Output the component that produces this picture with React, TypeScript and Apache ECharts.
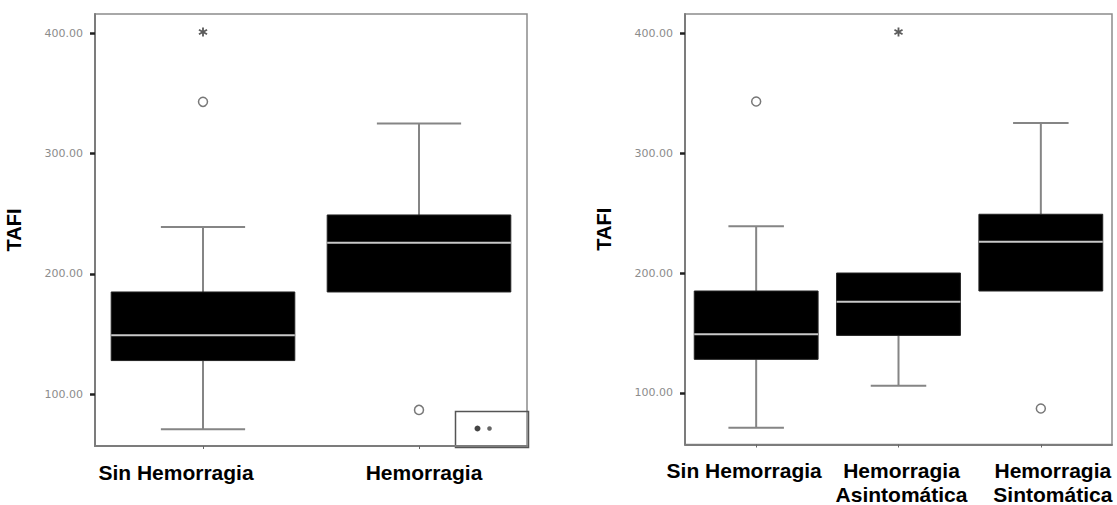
import React, { useEffect, useRef } from "react";
import * as echarts from "echarts";

// Two-group comparison
const groupsTwo = ["Sin Hemorragia", "Hemorragia"];
// [lower whisker, Q1, median, Q3, upper whisker]
const statsTwo = [
  [71, 128, 149, 185, 239],
  [185, 185, 226, 249, 325],
];
const circlesTwo = [
  [0, 343],
  [1, 87],
];
const starsTwo = [[0, 401]];

// Three-group comparison
const groupsThree = ["Sin Hemorragia", "Hemorragia\nAsintomática", "Hemorragia\nSintomática"];
const statsThree = [
  [71, 128, 149, 185, 239],
  [106, 148, 176, 200, 200],
  [185, 185, 226, 249, 325],
];
const circlesThree = [
  [0, 343],
  [2, 87],
];
const starsThree = [[1, 401]];

const yTicks = [100, 200, 300, 400];
const yMin = 57;
const yMax = 416;

// horizontal nudges (px) of the category captions
const shiftTwo = [-27, 5];
const shiftThree = [-12, 3, 12];

const FONT = "'Liberation Sans', Arial, sans-serif";
const ASTERISK =
  "path://M4,0h2v3.3l2.9-1.7 1,1.7-2.9,1.7 2.9,1.7-1,1.7-2.9-1.7v3.3h-2v-3.3l-2.9,1.7-1-1.7 2.9-1.7-2.9-1.7 1-1.7 2.9,1.7z";

function boxRenderer(boxRatio: number, capRatio: number) {
  return (params: any, api: any) => {
    const cat = api.value(0);
    const low = api.value(1);
    const q1 = api.value(2);
    const med = api.value(3);
    const q3 = api.value(4);
    const high = api.value(5);
    const band = api.size([1, 0])[0];
    const hb = (band * boxRatio) / 2;
    const hc = (band * capRatio) / 2;
    const x = api.coord([cat, med])[0];
    const yLow = api.coord([cat, low])[1];
    const yQ1 = api.coord([cat, q1])[1];
    const yMed = api.coord([cat, med])[1];
    const yQ3 = api.coord([cat, q3])[1];
    const yHigh = api.coord([cat, high])[1];
    const whisker = { stroke: "#858585", lineWidth: 2 };
    const children: any[] = [];
    if (high > q3) {
      children.push({ type: "line", shape: { x1: x, y1: yQ3, x2: x, y2: yHigh }, style: whisker });
      children.push({ type: "line", shape: { x1: x - hc, y1: yHigh, x2: x + hc, y2: yHigh }, style: whisker });
    }
    if (low < q1) {
      children.push({ type: "line", shape: { x1: x, y1: yQ1, x2: x, y2: yLow }, style: whisker });
      children.push({ type: "line", shape: { x1: x - hc, y1: yLow, x2: x + hc, y2: yLow }, style: whisker });
    }
    children.push({
      type: "rect",
      shape: { x: x - hb, y: yQ3, width: hb * 2, height: yQ1 - yQ3 },
      style: { fill: "#000", stroke: "#222", lineWidth: 1 },
    });
    children.push({
      type: "line",
      shape: { x1: x - hb, y1: yMed, x2: x + hb, y2: yMed },
      style: { stroke: "#c8c8c8", lineWidth: 2 },
    });
    return { type: "group", children };
  };
}

function richFor(shifts: number[]) {
  const rich: Record<string, any> = {};
  shifts.forEach((d, i) => {
    rich["c" + i] = {
      fontSize: 21,
      fontWeight: "bold",
      color: "#000",
      fontFamily: FONT,
      lineHeight: 24,
      padding: d < 0 ? [0, -2 * d, 0, 0] : [0, 0, 0, 2 * d],
    };
  });
  return rich;
}

function xAxisFor(gridIndex: number, cats: string[], shifts: number[]) {
  return {
    type: "category",
    gridIndex,
    data: cats,
    boundaryGap: true,
    axisLine: { show: true, lineStyle: { color: "#7c7c7c", width: 2 } },
    axisTick: { show: true, alignWithLabel: true, length: 3, lineStyle: { color: "#666" } },
    splitLine: { show: false },
    axisLabel: {
      interval: 0,
      margin: 14,
      formatter: (v: string, idx: number) =>
        v
          .split("\n")
          .map((l) => `{c${idx}|${l}}`)
          .join("\n"),
      rich: richFor(shifts),
    },
  };
}

function yAxisFor(gridIndex: number, nameGap: number) {
  return {
    type: "value",
    gridIndex,
    min: yMin,
    max: yMax,
    name: "TAFI",
    nameLocation: "middle",
    nameGap,
    nameTextStyle: { fontSize: 20, fontWeight: "bold", color: "#000", fontFamily: FONT },
    axisLine: { show: true, lineStyle: { color: "#7c7c7c", width: 2 } },
    axisTick: { show: true, length: 5, customValues: yTicks, lineStyle: { color: "#222", width: 2.5 } },
    splitLine: { show: false },
    axisLabel: {
      customValues: yTicks,
      margin: 12,
      fontSize: 11,
      color: "#8c8c8c",
      fontFamily: "'DejaVu Sans', sans-serif",
      formatter: (v: number) => v.toFixed(2),
    },
  };
}

function seriesFor(idx: number, stats: number[][], circles: number[][], stars: number[][], ratio: number) {
  return [
    {
      type: "custom",
      xAxisIndex: idx,
      yAxisIndex: idx,
      renderItem: boxRenderer(ratio, 0.39),
      encode: { x: 0, y: [1, 2, 3, 4, 5] },
      data: stats.map((s, i) => [i, ...s]),
      z: 2,
    },
    {
      type: "scatter",
      xAxisIndex: idx,
      yAxisIndex: idx,
      symbol: "circle",
      symbolSize: 9,
      itemStyle: { color: "#fff", borderColor: "#555", borderWidth: 1.5 },
      data: circles,
      z: 3,
    },
    {
      type: "scatter",
      xAxisIndex: idx,
      yAxisIndex: idx,
      symbol: ASTERISK,
      symbolSize: 9,
      itemStyle: { color: "#333" },
      data: stars,
      z: 3,
    },
  ];
}

export default function App() {
  const ref = useRef<HTMLDivElement>(null);

  useEffect(() => {
    if (!ref.current) return;
    const chart = echarts.init(ref.current, null, { renderer: "svg" });
    chart.setOption({
      animation: false,
      backgroundColor: "#fff",
      grid: [
        { left: 95, top: 14, width: 432, height: 432, show: true, borderColor: "#8c8c8c", borderWidth: 1.5 },
        { left: 685, top: 14, width: 427, height: 432, show: true, borderColor: "#8c8c8c", borderWidth: 1.5 },
      ],
      xAxis: [xAxisFor(0, groupsTwo, shiftTwo), xAxisFor(1, groupsThree, shiftThree)],
      yAxis: [yAxisFor(0, 71), yAxisFor(1, 71)],
      series: [
        ...seriesFor(0, statsTwo, circlesTwo, starsTwo, 0.85),
        ...seriesFor(1, statsThree, circlesThree, starsThree, 0.87),
      ],
      graphic: [
        {
          type: "group",
          left: 453,
          top: 409,
          children: [
            { type: "rect", shape: { x: 0, y: 0, width: 73, height: 36 }, style: { fill: "none", stroke: "#555", lineWidth: 1.5 } },
            { type: "circle", shape: { cx: 22, cy: 17, r: 3 }, style: { fill: "#444" } },
            { type: "circle", shape: { cx: 34, cy: 17, r: 2.3 }, style: { fill: "#666" } },
          ],
        },
      ],
    });
    return () => chart.dispose();
  }, []);

  return (
    <div
      ref={ref}
      style={{ position: "absolute", left: 0, top: 0, width: 1117, height: 505 }}
    />
  );
}
